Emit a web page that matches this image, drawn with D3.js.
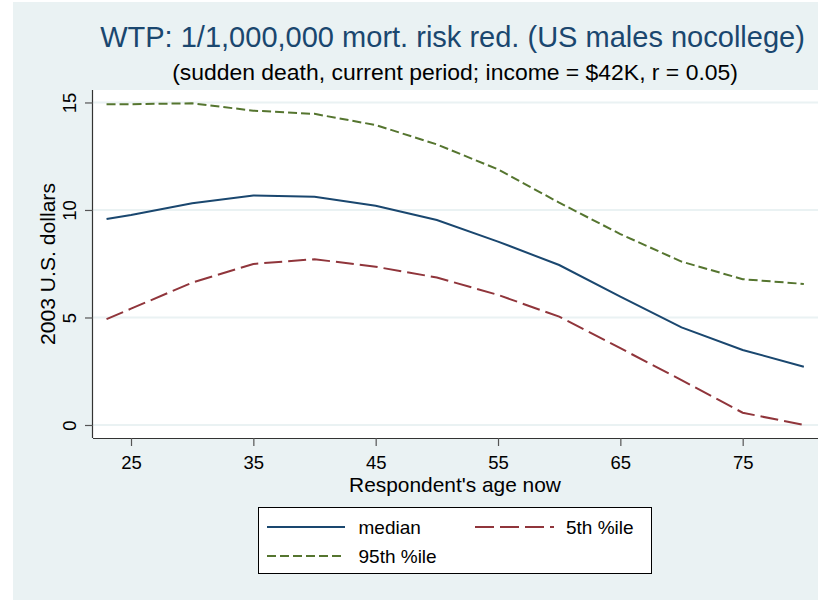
<!DOCTYPE html>
<html><head><meta charset="utf-8">
<script src="https://cdn.jsdelivr.net/npm/d3@7"></script>
<style>
html,body{margin:0;padding:0;background:#fff;}
svg{display:block;font-family:"Liberation Sans",Arial,sans-serif;}
</style></head>
<body>
<svg id="chart" width="827" height="600"></svg>
<script>
const ages = [23,25,30,35,40,45,50,55,60,65,70,75,80];
const medianVals = [9.58,9.77,10.31,10.67,10.62,10.20,9.53,8.53,7.44,5.97,4.54,3.49,2.71];
const p5Vals = [4.92,5.41,6.62,7.49,7.71,7.36,6.86,6.05,5.04,3.57,2.09,0.57,0.0];
const p95Vals = [14.92,14.92,14.96,14.62,14.47,13.95,13.05,11.89,10.34,8.88,7.60,6.78,6.56];
const xTicks = [25,35,45,55,65,75];
const yTicks = [0,5,10,15];
const titleText = "WTP: 1/1,000,000 mort. risk red. (US males nocollege)";
const subtitleText = "(sudden death, current period; income = $42K, r = 0.05)";
const xTitle = "Respondent's age now";
const yTitle = "2003 U.S. dollars";
const seriesNames = ["median","5th %ile","95th %ile"];

const svg = d3.select("#chart");
const plot = {left:93, right:818, top:90, bottom:438};
const x = d3.scaleLinear().domain([21.893,81.157]).range([plot.left,plot.right]);
const y = d3.scaleLinear().domain([-0.605,15.58]).range([plot.bottom,plot.top]);

// outer background
svg.append("rect").attr("x",13).attr("y",2).attr("width",805).attr("height",598).attr("fill","#eaf2f3");
// plot area
svg.append("rect").attr("x",plot.left).attr("y",plot.top)
  .attr("width",plot.right-plot.left).attr("height",plot.bottom-plot.top).attr("fill","#ffffff");

// gridlines
svg.append("g").selectAll("line").data(yTicks).join("line")
  .attr("x1",plot.left).attr("x2",plot.right)
  .attr("y1",d=>y(d)).attr("y2",d=>y(d))
  .attr("stroke","#eaf2f3").attr("stroke-width",2);

// axes
const xAxis = d3.axisBottom(x).tickValues(xTicks).tickSize(8).tickPadding(4).tickSizeOuter(0);
const gx = svg.append("g").attr("transform",`translate(0,${plot.bottom})`).call(xAxis);
gx.select(".domain").attr("d",`M${plot.left},0.5H${plot.right}`).attr("stroke","#333").attr("stroke-width",1.2);
gx.selectAll(".tick line").attr("stroke","#555").attr("stroke-width",1.2);
gx.selectAll(".tick text").attr("font-size",18.5).attr("fill","#000").attr("font-family","Liberation Sans, Arial, sans-serif")
  .attr("y",null).attr("dy",null).attr("transform","translate(0,31)");

const yAxis = d3.axisLeft(y).tickValues(yTicks).tickSize(8).tickSizeOuter(0);
const gy = svg.append("g").attr("transform",`translate(${plot.left},0)`).call(yAxis);
gy.select(".domain").attr("d",`M-0.5,${plot.top}V${plot.bottom}`).attr("stroke","#333").attr("stroke-width",1.2);
gy.selectAll(".tick line").attr("stroke","#555").attr("stroke-width",1.2);
gy.selectAll(".tick text").attr("font-size",18.5).attr("fill","#000").attr("font-family","Liberation Sans, Arial, sans-serif")
  .attr("x",null).attr("dy",null).attr("text-anchor","middle")
  .attr("transform","translate(-17,0) rotate(-90)");

// lines
const seriesVals = [medianVals,p5Vals,p95Vals];
const colors = ["#1a476f","#90353b","#55752f"];
const dashes = [null,"18,6","9,4"];
const line = d3.line().x((d,i)=>x(ages[i])).y(d=>y(d));
seriesVals.forEach((vals,k)=>{
  svg.append("path").datum(vals).attr("d",line)
    .attr("fill","none").attr("stroke",colors[k]).attr("stroke-width",2)
    .attr("stroke-dasharray",dashes[k]);
});

function fitText(sel, target){
  const w = sel.node().getComputedTextLength();
  const fs = parseFloat(sel.attr("font-size"));
  sel.attr("font-size", fs*target/w);
}

// titles
const t = svg.append("text").attr("x",452.5).attr("y",47).attr("text-anchor","middle")
  .attr("font-size",28).attr("fill","#1a476f").text(titleText);
fitText(t,705);
const st = svg.append("text").attr("x",455).attr("y",80).attr("text-anchor","middle")
  .attr("font-size",20).attr("fill","#000").text(subtitleText);
fitText(st,566);
const xt = svg.append("text").attr("x",455).attr("y",492).attr("text-anchor","middle")
  .attr("font-size",20).attr("fill","#000").text(xTitle);
fitText(xt,212);
const yt = svg.append("text").attr("transform","translate(55,264) rotate(-90)").attr("text-anchor","middle")
  .attr("font-size",20).attr("fill","#000").text(yTitle);
fitText(yt,162);

// legend
const lg = svg.append("g");
lg.append("rect").attr("x",258.5).attr("y",507.5).attr("width",393).attr("height",66)
  .attr("fill","#fff").attr("stroke","#000").attr("stroke-width",1);
const legPos = [{x1:267,x2:345,tx:358.5,y:527},{x1:475,x2:554,tx:566,y:527},{x1:267,x2:345,tx:358.5,y:556}];
const legDash = [null,"19,6","9,4"];
seriesNames.forEach((n,k)=>{
  const p = legPos[k];
  lg.append("line").attr("x1",p.x1).attr("x2",p.x2).attr("y1",p.y).attr("y2",p.y)
    .attr("stroke",colors[k]).attr("stroke-width",2).attr("stroke-dasharray",legDash[k]);
  lg.append("text").attr("x",p.tx).attr("y",p.y+7).attr("font-size",19).attr("fill","#000").text(n);
});
</script>
</body></html>
